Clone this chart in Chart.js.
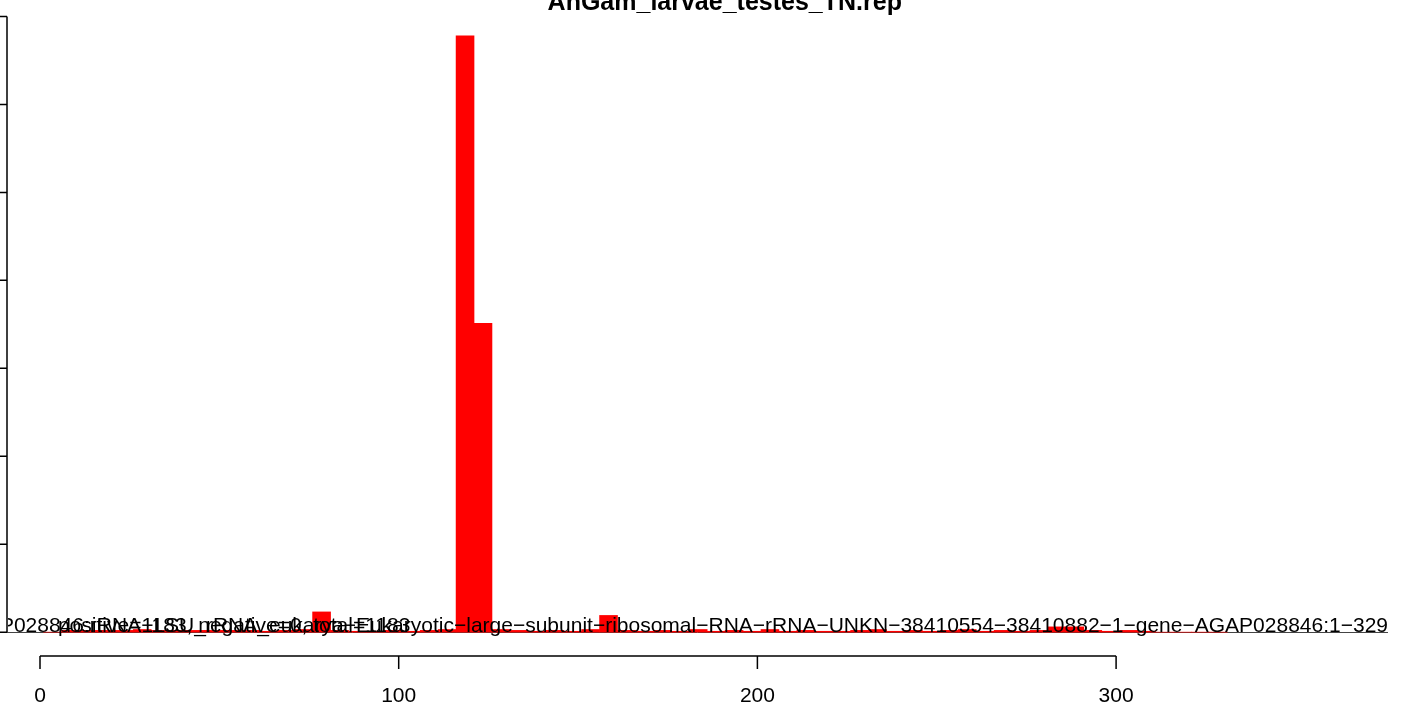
<!DOCTYPE html>
<html>
<head>
<meta charset="utf-8">
<script src="https://cdn.jsdelivr.net/npm/chart.js@4"></script>
<style>
  html, body { margin: 0; padding: 0; background: #fff; overflow: hidden; }
</style>
</head>
<body>
<canvas id="chart" width="1407" height="707"></canvas>
<script>
// Read counts per 5-nt bin (bin start positions)
const binStarts = [1, 6, 11, 16, 21, 26, 31, 36, 41, 46, 51, 56, 61, 66, 71, 76, 81, 86, 91, 96,
    101, 106, 111, 116, 121, 126, 131, 136, 141, 146, 151, 156, 161, 166, 171, 176, 181, 186, 191, 196,
    201, 206, 211, 216, 221, 226, 231, 236, 241, 246, 251, 256, 261, 266, 271, 276, 281, 286, 291, 296,
    301, 306, 311, 316, 321, 326];
const counts = [0, 2, 2, 2, 2, 3, 2, 2, 2, 2, 2, 2, 1, 2, 3, 23, 2, 1, 1, 2,
    1, 2, 3, 678, 351, 3, 2, 1, 2, 1, 3, 19, 2, 1, 2, 1, 3, 1, 2, 1,
    3, 1, 2, 1, 1, 2, 3, 1, 2, 1, 2, 3, 1, 2, 1, 2, 6, 6, 2, 1,
    2, 1, 0, 0, 0, 0];
const binWidth = 5;

const xTicks = [0, 100, 200, 300];
const yTicks = [0, 100, 200, 300, 400, 500, 600, 700];

const titleText = 'AnGam_larvae_testes_TN.rep';
const refName = 'AGAP028846:rRNA−LSU_rRNA_eukarya−Eukaryotic−large−subunit−ribosomal−RNA−rRNA−UNKN−38410554−38410882−1−gene−AGAP028846:1−329';
const statsText = 'positive=1183, negative=0, total=1183';

// plot window in data units (R style, 4% extension)
const xMin = -9.2, xMax = 381.1;
const yMax = 678 * 1.04, yMin = -678 * 0.04;
const refNameEnd = 375.8;
const statsStart = 5;

const FONT = '"Liberation Sans", Arial, sans-serif';

// R-like axes, title and labels drawn with the chart's scales
const rDecorations = {
    id: 'rDecorations',
    beforeDatasetsDraw(chart) {
        const { ctx, scales: { x, y } } = chart;
        const y0 = Math.round(y.getPixelForValue(0)) + 0.5;
        ctx.save();
        ctx.strokeStyle = '#444';
        ctx.lineWidth = 1;
        ctx.beginPath();
        ctx.moveTo(chart.chartArea.left, y0);
        ctx.lineTo(x.getPixelForValue(refNameEnd), y0);
        ctx.stroke();
        ctx.restore();
    },
    afterDatasetsDraw(chart) {
        const { ctx, chartArea, scales: { x, y } } = chart;
        ctx.save();
        ctx.strokeStyle = '#000';
        ctx.fillStyle = '#000';
        ctx.lineWidth = 1.5;

        // y axis
        const ax = chartArea.left;
        ctx.beginPath();
        ctx.moveTo(ax, y.getPixelForValue(yTicks[0]));
        ctx.lineTo(ax, y.getPixelForValue(yTicks[yTicks.length - 1]));
        yTicks.forEach(v => {
            const py = y.getPixelForValue(v);
            ctx.moveTo(ax, py);
            ctx.lineTo(ax - 8, py);
        });
        ctx.stroke();

        // x axis
        const ay = chartArea.bottom;
        ctx.beginPath();
        ctx.moveTo(x.getPixelForValue(xTicks[0]), ay);
        ctx.lineTo(x.getPixelForValue(xTicks[xTicks.length - 1]), ay);
        xTicks.forEach(v => {
            const px = x.getPixelForValue(v);
            ctx.moveTo(px, ay);
            ctx.lineTo(px, ay + 13);
        });
        ctx.stroke();

        ctx.font = '21px ' + FONT;
        ctx.textAlign = 'center';
        ctx.textBaseline = 'alphabetic';
        xTicks.forEach(v => {
            ctx.fillText(String(v), x.getPixelForValue(v), ay + 46);
        });

        // title
        ctx.font = 'bold 25px ' + FONT;
        ctx.fillText(titleText, x.getPixelForValue((xMin + 391) / 2), chartArea.top - 2);

        // reference name and read summary on the baseline, clipped to the plot region
        ctx.beginPath();
        ctx.rect(chartArea.left + 1, chartArea.top, chartArea.right - chartArea.left, chartArea.bottom - chartArea.top);
        ctx.clip();
        ctx.font = '21px ' + FONT;
        const base = y.getPixelForValue(0);
        ctx.textAlign = 'right';
        ctx.fillText(refName, x.getPixelForValue(refNameEnd), base);
        ctx.textAlign = 'left';
        ctx.fillText(statsText, x.getPixelForValue(statsStart), base);
        ctx.restore();
    }
};

new Chart(document.getElementById('chart'), {
    type: 'bar',
    data: {
        datasets: [{
            data: binStarts.map((s, i) => ({ x: s + binWidth / 2, y: counts[i] })),
            backgroundColor: '#ff0000',
            borderWidth: 0,
            barPercentage: 1,
            categoryPercentage: 1
        }]
    },
    options: {
        responsive: false,
        animation: false,
        devicePixelRatio: 1,
        layout: { padding: { left: 7, top: 12, right: 0, bottom: 51 } },
        plugins: { legend: { display: false }, title: { display: false }, tooltip: { enabled: false } },
        scales: {
            x: { type: 'linear', min: xMin, max: xMax, offset: false, display: false },
            y: { type: 'linear', min: yMin, max: yMax, display: false }
        }
    },
    plugins: [rDecorations]
});
</script>
</body>
</html>
